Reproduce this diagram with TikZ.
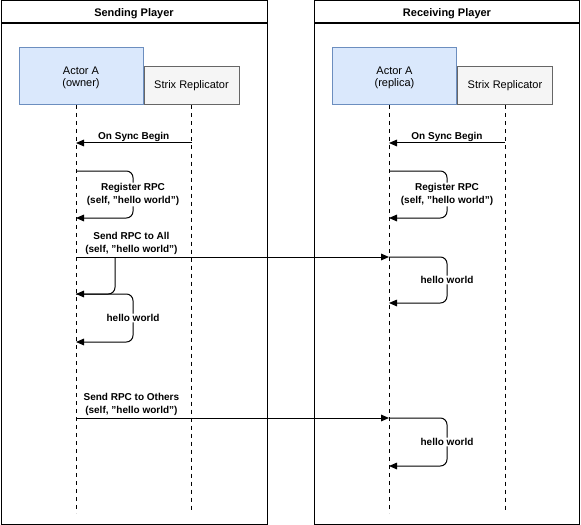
\documentclass[tikz,border=0pt]{standalone}
\usepackage{fontspec}
\setmainfont{Liberation Sans}
\usetikzlibrary{arrows.meta,positioning}
\definecolor{actorfill}{HTML}{DAE8FC}
\definecolor{actorline}{HTML}{6C8EBF}
\definecolor{replfill}{HTML}{F5F5F5}
\definecolor{replline}{HTML}{666666}
\begin{document}
\begin{tikzpicture}
	[x=0.75pt,y=-0.75pt,line width=0.75pt,
	poolhead/.style={draw,anchor=north west,minimum height=16.5pt,inner sep=0pt,text height=7pt,text depth=0pt,font=\bfseries\fontsize{8.25}{10}\selectfont},
	poolbody/.style={draw,anchor=north west,minimum height=375pt,inner sep=0pt},
	actor/.style={draw=actorline,fill=actorfill,minimum width=93pt,minimum height=42.75pt,align=center,text depth=0pt,font=\fontsize{8.25}{9}\selectfont},
	repl/.style={draw=replline,fill=replfill,minimum width=71.25pt,minimum height=28.5pt,anchor=south west,font=\fontsize{8.25}{9}\selectfont},
	lifeline/.style={dash pattern=on 3pt off 3pt,line width=0.6pt},
	msg/.style={-{Triangle[length=6pt,width=5pt]}},
	loopmsg/.style={msg,rounded corners=5pt},
	msglabel/.style={align=center,inner sep=0.5pt,font=\bfseries\fontsize{7.5}{9.75}\selectfont},]
	\useasboundingbox (0,0) rectangle (581,524);
	% pools
	\node[poolhead,minimum width=199.5pt] (sendHead) at (0.5,0.5) {Sending Player};
	\node[poolbody,minimum width=199.5pt] (sendPool) at (sendHead.south west) {};
	\node[poolhead,minimum width=198.75pt] (recvHead) at (314,0.5) {Receiving Player};
	\node[poolbody,minimum width=198.75pt] (recvPool) at (recvHead.south west) {};
	% heads
	\node[actor] (ownerA) at (81,76.5) {Actor A\\(owner)};
	\node[repl] (sendRepl) at (ownerA.south east) {Strix Replicator};
	\node[actor] (replicaA) at (394.5,76.5) {Actor A\\(replica)};
	\node[repl] (recvRepl) at (replicaA.south east) {Strix Replicator};
	% lifelines
	\coordinate (sA) at (76,105);
	\coordinate (sR) at (sendRepl.south);
	\coordinate (rA) at (389,105);
	\coordinate (rR) at (recvRepl.south);
	\foreach \l in {sA,sR,rA,rR}
	{
		\draw[lifeline] (\l) -- (\l |- 0,513);
	}
	% sending player
	\draw[msg] (sR |- 0,143) -- node[msglabel,above=0.5pt]{On Sync Begin} (sA |- 0,143);
	\draw[loopmsg] (sA |- 0,171) -| node[msglabel,fill=white,pos=0.75]{Register RPC\\(self, "hello world")} (133,218) -- (sA |- 0,218);
	\draw[msg] (sA |- 0,257) -- node[msglabel,above=1pt,pos=0.177]{Send RPC to All\\(self, "hello world")} (rA |- 0,257);
	\coordinate (fork) at (115,257);
	\draw[loopmsg] (fork) |- (sA |- 0,294);
	\draw[loopmsg] (sA |- 0,294) -| node[msglabel,fill=white,pos=0.75]{hello world} (133,342) -- (sA |- 0,342);
	\draw[msg] (sA |- 0,418) -- node[msglabel,above=1pt,pos=0.177]{Send RPC to Others\\(self, "hello world")} (rA |- 0,418);
	% receiving player
	\draw[msg] (rR |- 0,143) -- node[msglabel,above=0.5pt]{On Sync Begin} (rA |- 0,143);
	\draw[loopmsg] (rA |- 0,171) -| node[msglabel,fill=white,pos=0.75]{Register RPC\\(self, "hello world")} (447,218) -- (rA |- 0,218);
	\draw[loopmsg] (rA |- 0,257) -| node[msglabel,fill=white,pos=0.75]{hello world} (447,303) -- (rA |- 0,303);
	\draw[loopmsg] (rA |- 0,418) -| node[msglabel,fill=white,pos=0.75]{hello world} (447,466) -- (rA |- 0,466);
\end{tikzpicture}
\end{document}
